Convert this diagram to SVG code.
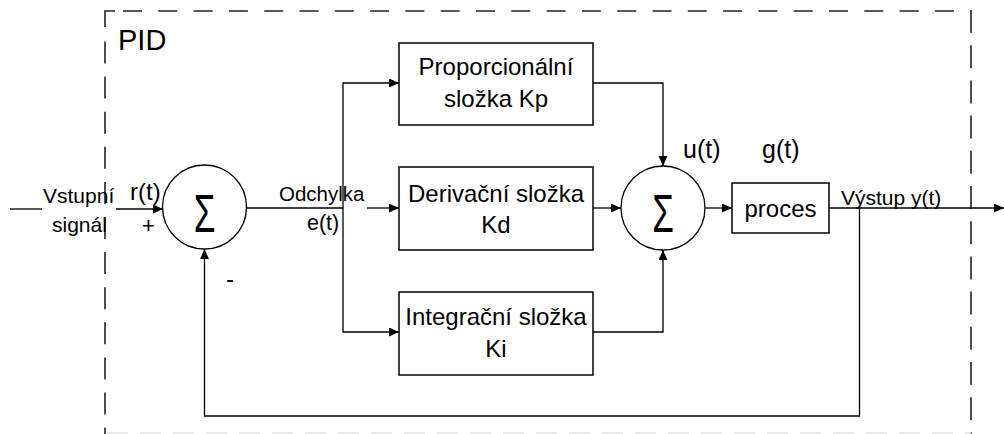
<svg xmlns="http://www.w3.org/2000/svg" width="1004" height="434" viewBox="0 0 1004 434">
  <style>
    text { font-family: "Liberation Sans", Arial, sans-serif; fill: #000; }
    .box { fill: #fff; stroke: #000; stroke-width: 1.5; }
    .sum { fill: #fff; stroke: #000; stroke-width: 1.3; }
    .wire { fill: none; stroke: #000; stroke-width: 1.3; }
    .frame { fill: none; stroke: #222; stroke-width: 1.6; }
    .lbl { font-size: 21px; }
    .blk { font-size: 24px; text-anchor: middle; }
    .sig { font-size: 54px; text-anchor: middle; }
  </style>
  <defs>
    <marker id="arrow" markerUnits="userSpaceOnUse" markerWidth="10" markerHeight="10" refX="10" refY="4.5" orient="auto">
      <path d="M0,0 L10,4.5 L0,9 z" fill="#000"/>
    </marker>
  </defs>

  <!-- dashed controller boundary -->
  <g id="pid-frame">
    <path class="frame" d="M105,27 V11 H115"/>
    <path class="frame" d="M123,11 H960" stroke-dasharray="19 16.3"/>
    <path class="frame" d="M105,41.5 V434" stroke-dasharray="22 13.1"/>
    <path class="frame" d="M971,10 V434" stroke-dasharray="23 12.2"/>
    <path fill="none" stroke="#e2e2e2" stroke-width="1.6" d="M107,433 H971" stroke-dasharray="21 12"/>
    <text x="118" y="50" style="font-size:29px">PID</text>
  </g>

  <!-- connectors -->
  <g id="connectors">
    <path class="wire" d="M10,209 H42"/>
    <path class="wire" d="M116,209 H163" marker-end="url(#arrow)"/>
    <path class="wire" d="M246,208 H343"/>
    <path class="wire" d="M343,208 V83 H399" marker-end="url(#arrow)"/>
    <path class="wire" d="M343,208 V332 H399" marker-end="url(#arrow)"/>
    <path class="wire" d="M367,208 H399" marker-end="url(#arrow)"/>
    <path class="wire" d="M593,83 H663 V166" marker-end="url(#arrow)"/>
    <path class="wire" d="M593,208 H621" marker-end="url(#arrow)"/>
    <path class="wire" d="M593,332 H663 V250" marker-end="url(#arrow)"/>
    <path class="wire" d="M705,208 H732" marker-end="url(#arrow)"/>
    <path class="wire" d="M829,208 H1004" marker-end="url(#arrow)"/>
    <path class="wire" d="M859.5,208 V416 H204.5 V249" marker-end="url(#arrow)"/>
  </g>

  <!-- input summing junction -->
  <g id="sum-error">
    <circle class="sum" cx="204.5" cy="207" r="42"/>
    <text class="sig" transform="translate(204.5,232) scale(0.65,1)">Σ</text>
  </g>

  <g id="proportional">
    <rect class="box" x="399" y="43" width="194" height="82"/>
    <text class="blk" x="496" y="75">Proporcionální</text>
    <text class="blk" x="496" y="107">složka Kp</text>
  </g>

  <g id="derivative">
    <rect class="box" x="399" y="167" width="194" height="83"/>
    <text class="blk" x="496" y="202">Derivační složka</text>
    <text class="blk" x="496" y="233">Kd</text>
  </g>

  <g id="integral">
    <rect class="box" x="399" y="292" width="194" height="83"/>
    <text class="blk" x="496" y="325">Integrační složka</text>
    <text class="blk" x="496" y="357">Ki</text>
  </g>

  <!-- controller output summing junction -->
  <g id="sum-output">
    <circle class="sum" cx="663" cy="208" r="42"/>
    <text class="sig" transform="translate(663,232) scale(0.65,1)">Σ</text>
  </g>

  <g id="process">
    <rect class="box" x="732" y="183" width="97" height="50"/>
    <text class="blk" x="780.5" y="217">proces</text>
  </g>

  <!-- signal labels -->
  <g id="labels">
    <text class="lbl" x="43" y="203">Vstupní</text>
    <text class="lbl" x="52" y="232">signál</text>
    <text x="130" y="200" style="font-size:24px">r(t)</text>
    <text x="142" y="233" style="font-size:22px">+</text>
    <text x="226" y="287" style="font-size:24px">-</text>
    <text x="279" y="201" style="font-size:20.5px">Odchylka</text>
    <text x="307" y="230" style="font-size:21.5px">e(t)</text>
    <text x="683" y="158" style="font-size:25px">u(t)</text>
    <text x="762" y="158" style="font-size:25px">g(t)</text>
    <text class="lbl" x="841" y="205">Výstup y(t)</text>
  </g>
</svg>
